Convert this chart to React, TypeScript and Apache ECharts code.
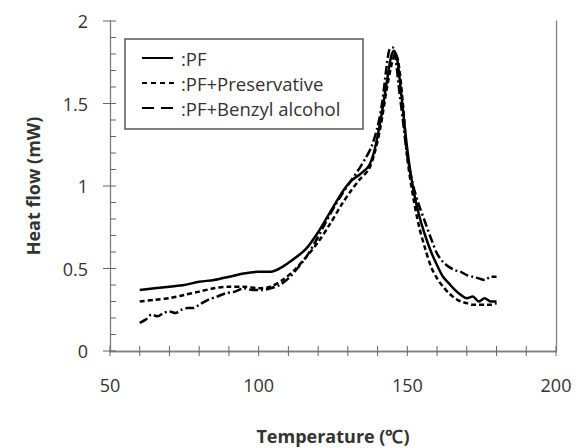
import React, { useEffect, useRef } from "react";
import * as echarts from "echarts";

const pfT = [60, 65, 70, 75, 80, 85, 90, 95, 100, 104, 108, 112, 116, 120, 124, 128, 131, 134, 137, 139, 141, 143, 144.5, 145.5, 146.5, 148, 150, 152, 154, 156, 158, 160, 162, 164, 166, 168, 170, 172, 174, 176, 178, 180];
const pfY = [0.37, 0.38, 0.39, 0.40, 0.42, 0.43, 0.45, 0.47, 0.48, 0.48, 0.51, 0.56, 0.62, 0.72, 0.84, 0.96, 1.03, 1.07, 1.12, 1.22, 1.40, 1.62, 1.78, 1.82, 1.78, 1.55, 1.22, 0.98, 0.82, 0.70, 0.60, 0.52, 0.45, 0.41, 0.37, 0.34, 0.32, 0.33, 0.30, 0.32, 0.30, 0.30];

const presT = [60, 65, 70, 75, 80, 85, 90, 95, 100, 104, 108, 112, 116, 120, 124, 128, 131, 134, 137, 139, 141, 143, 145, 146, 147, 148.5, 150, 152, 154, 156, 158, 160, 162, 164, 166, 168, 170, 172, 174, 176, 178, 180];
const presY = [0.30, 0.31, 0.32, 0.34, 0.36, 0.38, 0.39, 0.39, 0.38, 0.39, 0.43, 0.49, 0.57, 0.66, 0.77, 0.89, 0.97, 1.04, 1.10, 1.20, 1.36, 1.58, 1.76, 1.80, 1.75, 1.50, 1.17, 0.93, 0.75, 0.62, 0.51, 0.44, 0.39, 0.35, 0.32, 0.30, 0.29, 0.28, 0.28, 0.28, 0.28, 0.29];

const benT = [60, 62, 64, 66, 68, 70, 72, 74, 76, 78, 80, 83, 86, 89, 92, 95, 98, 101, 104, 107, 110, 113, 116, 119, 122, 125, 128, 131, 134, 136, 138, 140, 141.5, 143, 144, 145, 146, 147, 148.5, 150, 152, 154, 156, 158, 160, 162, 164, 166, 168, 170, 172, 174, 176, 178, 180];
const benY = [0.17, 0.19, 0.22, 0.21, 0.23, 0.24, 0.23, 0.25, 0.26, 0.26, 0.28, 0.31, 0.33, 0.35, 0.36, 0.38, 0.37, 0.37, 0.38, 0.40, 0.44, 0.50, 0.57, 0.66, 0.76, 0.86, 0.95, 1.03, 1.11, 1.17, 1.24, 1.36, 1.50, 1.72, 1.83, 1.84, 1.78, 1.62, 1.40, 1.18, 1.00, 0.88, 0.78, 0.68, 0.59, 0.54, 0.51, 0.49, 0.48, 0.46, 0.45, 0.44, 0.43, 0.45, 0.45];

const xTickValues = [50, 60, 70, 80, 90, 100, 110, 120, 130, 140, 150, 160, 170, 180, 190, 200];
const yMajorTicks = [0, 0.5, 1, 1.5, 2];
const yMinorTicks = [0.1, 0.2, 0.3, 0.4, 0.6, 0.7, 0.8, 0.9, 1.1, 1.2, 1.3, 1.4, 1.6, 1.7, 1.8, 1.9];

const legendLabels = [":PF", ":PF+Preservative", ":PF+Benzyl alcohol"];

const FONT = "'Open Sans', sans-serif";
const TXT = "#333";
const AX = "#808080";
const TK = "#666";

const pairs = (t: number[], y: number[]) => t.map((v, i) => [v, y[i]]);

// tick items: [x, y, kind] kind 0 = x crossing tick, 1 = y major crossing, 2 = y minor inside
const tickData = [
  ...xTickValues.map((v) => [v, 0, 0]),
  ...yMajorTicks.map((v) => [50, v, 1]),
  ...yMinorTicks.map((v) => [50, v, 2]),
];

export default function App() {
  const ref = useRef<HTMLDivElement>(null);
  useEffect(() => {
    if (!ref.current) return;
    const chart = echarts.init(ref.current, undefined, { renderer: "svg" });
    const xBase = { type: "value", min: 50, max: 200, interval: 50, splitLine: { show: false }, axisLine: { show: true, lineStyle: { color: AX, width: 1.3 } } };
    const yBase = { type: "value", min: 0, max: 2, interval: 0.5, splitLine: { show: false }, axisLine: { show: true, lineStyle: { color: AX, width: 1.3 } } };
    chart.setOption({
      animation: false,
      backgroundColor: "#fff",
      grid: { left: 110, right: 22, top: 21, bottom: 97, containLabel: false, outerBoundsMode: "none" },
      xAxis: [
        {
          ...xBase,
          name: "Temperature (\u2103)",
          nameLocation: "middle",
          nameGap: 76,
          nameTextStyle: { fontFamily: FONT, fontSize: 18, fontWeight: "bold", color: TXT },
          axisTick: { show: false },
          axisLabel: { margin: 25, fontFamily: FONT, fontSize: 18, color: TXT },
        },
        { ...xBase, position: "top", axisTick: { show: false }, axisLabel: { show: false } },
      ],
      yAxis: [
        {
          ...yBase,
          name: "Heat flow (mW)",
          nameLocation: "middle",
          nameGap: 68,
          nameTextStyle: { fontFamily: FONT, fontSize: 18, fontWeight: "bold", color: TXT },
          axisTick: { show: false },
          axisLabel: { margin: 22, fontFamily: FONT, fontSize: 18, color: TXT },
        },
        { ...yBase, position: "right", axisTick: { show: false }, axisLabel: { show: false } },
      ],
      series: [
        {
          type: "line",
          name: "PF",
          data: pairs(pfT, pfY),
          symbol: "none",
          smooth: 0.3,
          lineStyle: { color: "#000", width: 2.5, type: "solid" },
        },
        {
          type: "line",
          name: "PF+Preservative",
          data: pairs(presT, presY),
          symbol: "none",
          smooth: 0.3,
          lineStyle: { color: "#000", width: 2.5, type: [5, 3] },
        },
        {
          type: "line",
          name: "PF+Benzyl alcohol",
          data: pairs(benT, benY),
          symbol: "none",
          smooth: 0.3,
          lineStyle: { color: "#000", width: 2.5, type: [9, 3, 2, 3] },
        },
        {
          type: "custom",
          name: "ticks",
          data: tickData,
          encode: { x: 0, y: 1 },
          clip: false,
          silent: true,
          z: 5,
          renderItem: (params: any, api: any) => {
            const x = api.value(0);
            const y = api.value(1);
            const kind = api.value(2);
            const p = api.coord([x, y]);
            let shape;
            if (kind === 0) shape = { x1: p[0], y1: p[1] - 5, x2: p[0], y2: p[1] + 5 };
            else if (kind === 1) shape = { x1: p[0] - 7, y1: p[1], x2: p[0] + 6, y2: p[1] };
            else shape = { x1: p[0], y1: p[1], x2: p[0] + 6, y2: p[1] };
            return { type: "line", shape, style: { stroke: TK, lineWidth: 1 } };
          },
        },
      ],
      graphic: [
        { type: "rect", shape: { x: 125, y: 39, width: 238, height: 90 }, style: { fill: "#fff", stroke: "#555", lineWidth: 1.5 }, z: 10 },
        { type: "line", shape: { x1: 142, y1: 58, x2: 173, y2: 58 }, style: { stroke: "#000", lineWidth: 2 }, z: 11 },
        { type: "line", shape: { x1: 142, y1: 83, x2: 176, y2: 83 }, style: { stroke: "#000", lineWidth: 2, lineDash: [5, 4] }, z: 11 },
        { type: "line", shape: { x1: 142, y1: 108, x2: 175, y2: 108 }, style: { stroke: "#000", lineWidth: 2, lineDash: [12, 7] }, z: 11 },
        ...legendLabels.map((t, i) => ({
          type: "text",
          x: 181,
          y: 58 + i * 25,
          style: { text: t, fontFamily: FONT, fontSize: 18.5, fill: TXT, verticalAlign: "middle", align: "left" },
          z: 11,
        })),
      ],
    });
    return () => chart.dispose();
  }, []);
  return <div ref={ref} style={{ position: "fixed", left: 0, top: 0, width: 578, height: 448, background: "#fff" }} />;
}
